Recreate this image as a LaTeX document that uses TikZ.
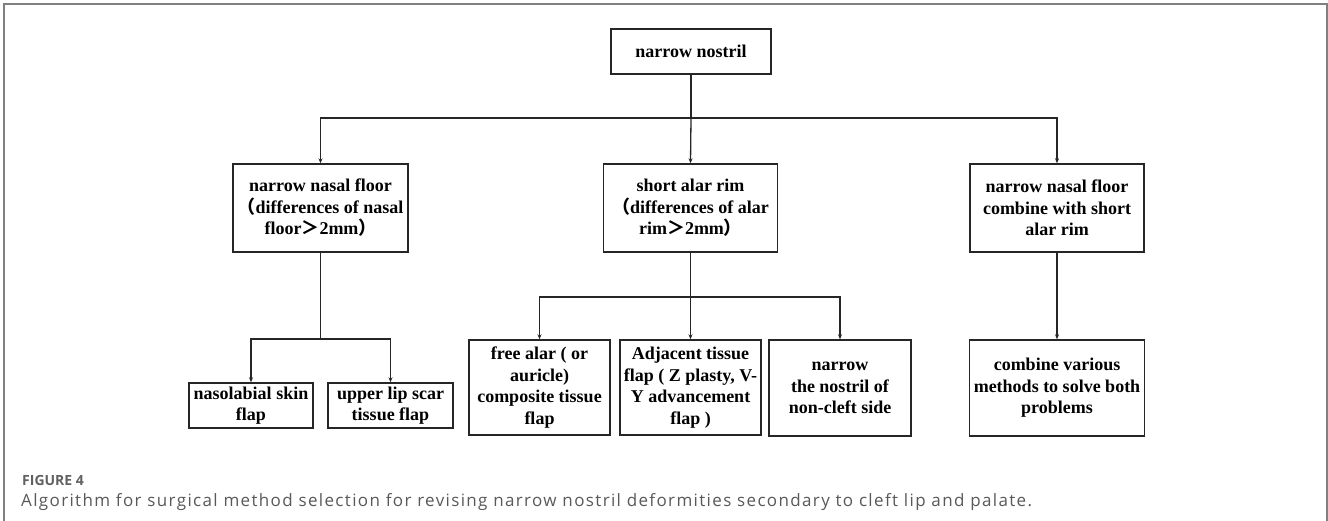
\documentclass[tikz,border=0pt]{standalone}
\usepackage{fontspec}
\setmainfont{Liberation Serif}
\newfontfamily\capfont[LetterSpace=8]{Open Sans}
\newfontfamily\figfont{Open Sans}
\newfontfamily\cjk{Noto Sans CJK SC}
\usetikzlibrary{arrows.meta}
\newcommand{\fl}{{\cjk （}}
\newcommand{\fr}{{\cjk ）}}
\newcommand{\fg}{{\cjk ＞}}
\begin{document}
\begin{tikzpicture}[x=1pt,y=-1pt,
  box/.style={draw=black!85,line width=1.4pt,inner sep=0pt,align=center,
    font=\fontsize{18}{21.5}\selectfont\bfseries},
  conn/.style={draw=black!85,line width=1.3pt},
  arr/.style={conn,-{Stealth[length=5pt,width=4pt]}},
]
\useasboundingbox (0,0) rectangle (1328,521);
\fill[white] (0,0) rectangle (1328,521);
\draw[draw=black!50,line width=1.5pt] (4,521) -- (4,4) -- (1327,4) -- (1327,521);

\node[box,minimum width=160pt,minimum height=45pt] (top) at (691,51.5) {narrow nostril};
\node[box,minimum width=175pt,minimum height=88pt] (L1) at (320.5,208) {narrow nasal floor\\\fl differences of nasal\\floor\fg 2mm\fr};
\node[box,minimum width=174pt,minimum height=88pt] (M1) at (690.5,208) {short alar rim\\\fl differences of alar\\rim\fg 2mm\fr};
\node[box,minimum width=174pt,minimum height=88pt] (R1) at (1057,208) {narrow nasal floor\\combine with short\\alar rim};

\node[box,minimum width=124pt,minimum height=45pt] (nas) at (251,405.5) {nasolabial skin\\flap};
\node[box,minimum width=125pt,minimum height=45pt] (lip) at (390.5,405.5) {upper lip scar\\tissue flap};
\node[box,minimum width=141pt,minimum height=95pt] (free) at (539.5,387.5) {free alar ( or\\auricle)\\composite tissue\\flap};
\node[box,minimum width=141pt,minimum height=95pt] (adj) at (690.5,387.5) {Adjacent tissue\\flap ( Z plasty, V-\\Y advancement\\flap )};
\node[box,minimum width=142pt,minimum height=96pt] (nar) at (840,388) {narrow\\the nostril of\\non-cleft side};
\node[box,minimum width=175pt,minimum height=96pt] (comb) at (1057,388) {combine various\\methods to solve both\\problems};

\coordinate (j0) at (691,118);
\coordinate (jL) at (320.5,339);
\coordinate (jM) at (690.5,297);

\draw[conn] (top.south) -- (j0);
\draw[arr] (j0) -| (L1.north);
\draw[arr] (j0) -| (R1.north);
\draw[arr] (j0) -- (M1.north);

\draw[conn] (L1.south) -- (jL);
\draw[arr] (jL) -| (nas.north);
\draw[arr] (jL) -| (lip.north);

\draw[conn] (M1.south) -- (jM);
\draw[arr] (jM) -| (free.north);
\draw[arr] (jM) -| (nar.north);
\draw[arr] (jM) -- (adj.north);

\draw[arr] (R1.south) -- (comb.north);

\node[anchor=base west,inner sep=0pt,text=black!62,font=\figfont\fontsize{14}{16}\selectfont\bfseries] (fig) at (22,485.5) {FIGURE 4};
\node[anchor=base west,inner sep=0pt,text=black!65,font=\capfont\fontsize{17}{19}\selectfont] (cap) at (21,506) {Algorithm for surgical method selection for revising narrow nostril deformities secondary to cleft lip and palate.};
\end{tikzpicture}
\end{document}
